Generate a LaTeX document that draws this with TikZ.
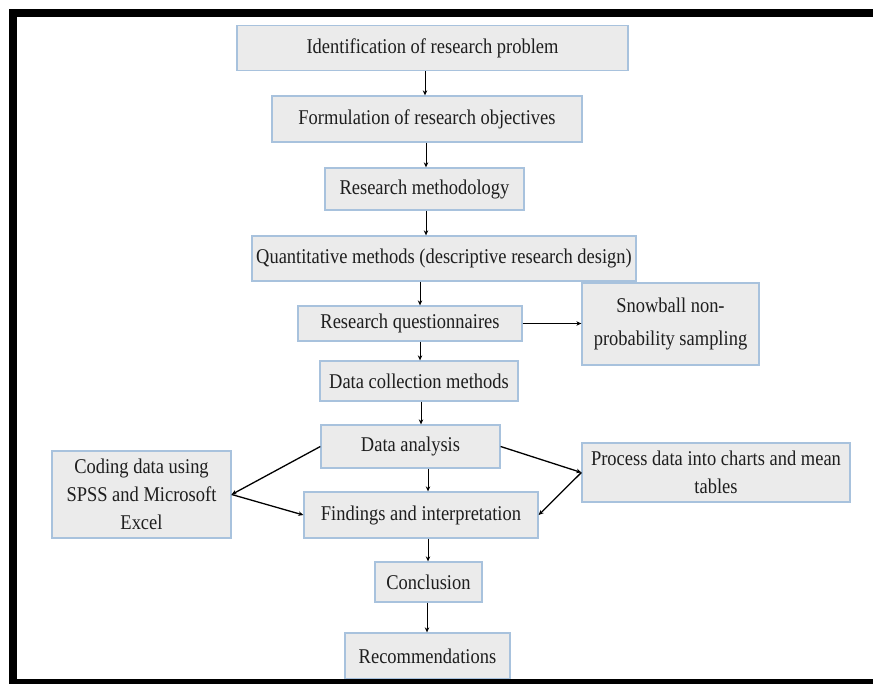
\documentclass[tikz,border=0pt]{standalone}
\usepackage{fontspec}
\setmainfont{Liberation Serif}[FakeStretch=0.88]
\usetikzlibrary{arrows.meta}
\definecolor{boxfill}{RGB}{235,235,235}
\definecolor{boxline}{RGB}{168,194,221}
\definecolor{ink}{RGB}{30,30,30}

\begin{document}
\begin{tikzpicture}[
    x=1pt, y=-1pt,
    every node/.style={font=\fontsize{21}{28}\selectfont, text=ink},
    stage/.style={rectangle, draw=boxline, fill=boxfill, line width=1.3pt,
        align=center, inner sep=2pt},
    flow/.style={-{Stealth[length=5pt, width=4.5pt]}, line width=0.9pt},
    side/.style={flow, line width=1.3pt},
    ]
    \useasboundingbox (0,0) rectangle (873,684);

    % main chain
    \node (ident) [stage, minimum width=391, minimum height=45] at (432.5,48)
        {Identification of research problem};
    \node (formul) [stage, minimum width=310, minimum height=46] at (427,119)
        {Formulation of research objectives};
    \node (method) [stage, minimum width=199, minimum height=42] at (424.5,189)
        {Research methodology};
    \node (quant) [stage, minimum width=384, minimum height=45] at (444,258.5)
        {Quantitative methods (descriptive research design)};
    \node (quest) [stage, minimum width=224, minimum height=35] at (410,323.5)
        {Research questionnaires};
    \node (collect) [stage, minimum width=198, minimum height=40] at (419,381)
        {Data collection methods};
    \node (analysis) [stage, minimum width=179, minimum height=43] at (410.5,446.5)
        {Data analysis};
    \node (find) [stage, minimum width=234, minimum height=46] at (421,515)
        {Findings and interpretation};
    \node (concl) [stage, minimum width=107, minimum height=40] at (428.5,582)
        {Conclusion};
    \node (recom) [stage, minimum width=165, minimum height=46] at (427.5,656)
        {Recommendations};

    % side boxes
    \node (snow) [stage, minimum width=177, minimum height=82, font=\fontsize{21}{33}\selectfont]
        at (670.5,324) {Snowball non-\\probability sampling};
    \node (coding) [stage, minimum width=179, minimum height=87] at (141.5,494.5)
        {Coding data using\\SPSS and Microsoft\\Excel};
    \node (process) [stage, minimum width=268, minimum height=59] at (716,472.5)
        {Process data into charts and mean\\tables};

    \foreach \a/\b/\x in {ident/formul/425, formul/method/426, method/quant/426,
            quant/quest/420, quest/collect/420, collect/analysis/421,
            analysis/find/428, find/concl/428, concl/recom/427} {
        \draw [flow] (\x,0 |- \a.south) -- (\x,0 |- \b.north);
    }

    \draw [flow] (quest.east) -- (quest.east -| snow.west);
    \draw [side] (analysis.west) -- (coding.east);
    \draw [side] (coding.east) -- (find.west);
    \draw [side] (analysis.east) -- (process.west);
    \draw [side] (process.west) -- (find.east);

    % frame
    \draw [line width=8pt] (873,13) -- (12.5,13) -- (12.5,690);
    \draw [line width=6pt] (9,682) -- (873,682);
\end{tikzpicture}
\end{document}
